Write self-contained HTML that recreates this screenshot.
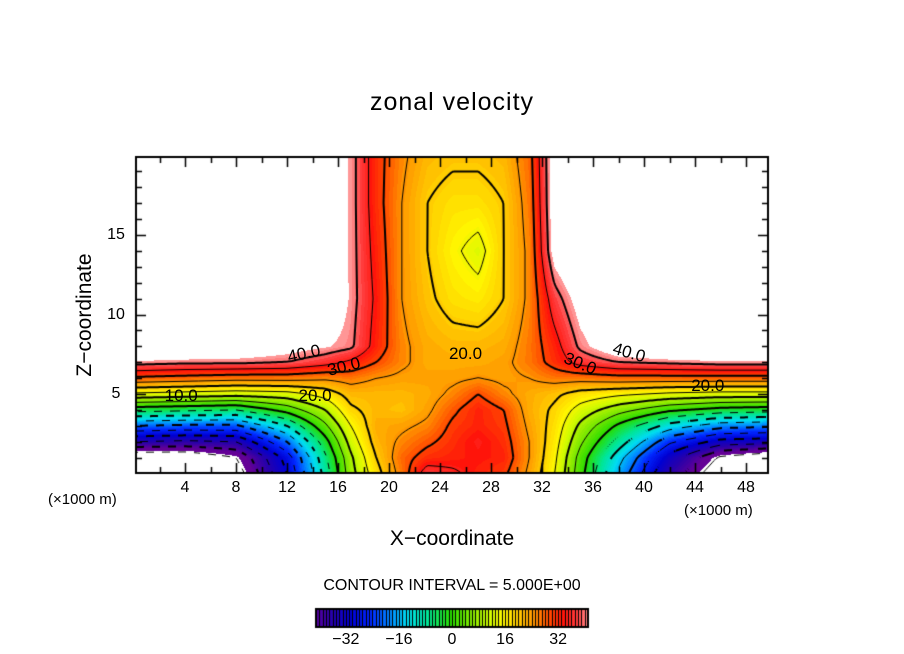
<!DOCTYPE html>
<html><head><meta charset="utf-8">
<style>
body{margin:0;background:#fff;width:904px;height:654px;overflow:hidden;position:relative;font-family:"Liberation Sans","DejaVu Sans",sans-serif;}
.t{position:absolute;color:#000;white-space:nowrap;}
canvas{position:absolute;left:0;top:0;}
</style></head><body>
<canvas id="cv" width="904" height="654"></canvas>
<div class="t" style="left:0;width:904px;text-align:center;top:88px;font-size:25px;letter-spacing:1px;">zonal velocity</div>
<div class="t" style="left:85px;top:315px;font-size:21px;transform:translate(-50%,-50%) rotate(-90deg);">Z−coordinate</div>
<div class="t" style="left:0;width:904px;text-align:center;top:527px;font-size:21px;">X−coordinate</div>
<div class="t" style="left:48px;top:491px;font-size:15px;">(×1000 m)</div>
<div class="t" style="left:684px;top:502px;font-size:15px;">(×1000 m)</div>
<div class="t" style="left:0;width:904px;text-align:center;top:577px;font-size:16px;">CONTOUR INTERVAL = 5.000E+00</div>
<div id="labels"></div>
<script>
// ---- data ----
const xNodes=[0,4,8,12,15,17,19,21,23,25,27,29,31,33,35,38,42,46,50];
const zNodes=[0,1,2,3,4,5,6,7,8,11,14,17,20];
const uZ0 =[-50,-50,-48,-30,-8, 8,18,27,38,36,33,31,24,15, 2,-16,-36,-50,-50];
const uZ1 =[-50,-50,-45,-28,-6, 9,20,28,32,33,34,33,25,16, 3,-13,-32,-46,-50];
const uZ2 =[-35,-36,-35,-20,-2,12,22,26,29,32,35,32,25,17, 6,-7,-24,-32,-33];
const uZ3 =[-20,-21,-21,-10, 4,15,23,24,26,31,33,31,24,18, 9,-1,-12,-18,-19];
const uZ4 =[-3,-4,-5, 2,10,19,22,21,24,29,33,30,23,19,13, 7, 1,-2,-3];
const uZ5 =[14,13,12,13,17,22,22,22,23,26,30,26,23,21,18,16,14,13,13];
const uZ6 =[29,28,27,27,26,27,25,24,24,24,25,24,25,27,27,28,28,28,28];
const uZ7 =[42,41,41,40,37,34,30,26,23,23,23,24,27,32,37,40,41,42,42];
const uZ8 =[50,50,48,45,43,41,33,26,23,22,22,23,27,33,41,47,50,50,50];
const uZ11=[50,50,50,50,48,42,34,25,21,18,17,20,26,38,45,50,50,50,50];
const uZ14=[50,50,50,50,47,42,33,25,20,16,13,20,26,45,50,50,50,50,50];
const uZ17=[50,50,50,50,47,42,32,25,20,18,18,20,27,46,50,50,50,50,50];
const uZ20=[50,50,50,50,47,42,32,26,22,21,21,22,28,46,50,50,50,50,50];
const grid=[uZ0,uZ1,uZ2,uZ3,uZ4,uZ5,uZ6,uZ7,uZ8,uZ11,uZ14,uZ17,uZ20];
const xTicks=[4,8,12,16,20,24,28,32,36,40,44,48];
const zTicks=[5,10,15];
const barTicks=[-32,-16,0,16,32];
const levels=[-45,-40,-35,-30,-25,-20,-15,-10,-5,0,5,10,15,20,25,30,35,40];
const contourLabels=[{v:"40.0",x:13.3,z:7.5,r:-12},{v:"30.0",x:16.5,z:6.7,r:-14},{v:"20.0",x:14.2,z:4.9,r:0},{v:"10.0",x:3.7,z:4.9,r:0},{v:"20.0",x:26.0,z:7.5,r:0},{v:"30.0",x:35.0,z:6.9,r:22},{v:"40.0",x:38.8,z:7.6,r:16},{v:"20.0",x:45.0,z:5.5,r:0}];

// ---- axes ----
const PL=136,PR=768,PT=157,PB=473;
const X0=134,XS=12.75,Z0=473.5,ZS=15.9;
const sx=x=>X0+x*XS, sz=z=>Z0-z*ZS;
const ix=px=>(px-X0)/XS, iz=py=>(Z0-py)/ZS;

function seg(arr,v){let i=0;while(i<arr.length-2&&v>arr[i+1])i++;return i;}
function field(x,z){
  x=Math.max(0,Math.min(50,x));z=Math.max(0,Math.min(20,z));
  const i=seg(xNodes,x),j=seg(zNodes,z);
  const tx=(x-xNodes[i])/(xNodes[i+1]-xNodes[i]),tz=(z-zNodes[j])/(zNodes[j+1]-zNodes[j]);
  const a=grid[j][i],b=grid[j][i+1],c=grid[j+1][i],d=grid[j+1][i+1];
  return (a*(1-tx)+b*tx)*(1-tz)+(c*(1-tx)+d*tx)*tz;
}
const stops=[[-42,[100,0,150]],[-36,[40,0,170]],[-30,[0,0,210]],[-24,[0,40,255]],[-18,[0,140,255]],[-13,[0,220,240]],[-7,[0,230,150]],[0,[40,220,0]],[7,[140,235,0]],[12,[210,250,0]],[16,[255,245,0]],[20,[255,205,0]],[25,[255,150,0]],[30,[255,70,0]],[34,[255,20,10]],[38,[255,60,60]],[42,[255,150,150]]];
function color(v){
  if(v>42.5||v<-44)return [255,255,255];
  v=Math.round(v);
  if(v<=stops[0][0])return stops[0][1];
  for(let k=0;k<stops.length-1;k++){const[a,ca]=stops[k],[b,cb]=stops[k+1];
    if(v<=b){const t=(v-a)/(b-a);return ca.map((c,q)=>Math.round(c+(cb[q]-c)*t));}}
  return stops[stops.length-1][1];
}
const cv=document.getElementById('cv'),ctx=cv.getContext('2d');
ctx.fillStyle='#fff';ctx.fillRect(0,0,904,654);
const img=ctx.createImageData(PR-PL,PB-PT);
for(let py=PT;py<PB;py++)for(let px=PL;px<PR;px++){
  const c=color(field(ix(px+0.5),iz(py+0.5)));const o=((py-PT)*(PR-PL)+(px-PL))*4;
  img.data[o]=c[0];img.data[o+1]=c[1];img.data[o+2]=c[2];img.data[o+3]=255;}
ctx.putImageData(img,PL,PT);

const step=2,nx=Math.ceil((PR-PL)/step),ny=Math.ceil((PB-PT)/step);
const F=[];for(let j=0;j<=ny;j++){F[j]=[];for(let i=0;i<=nx;i++)F[j][i]=field(ix(PL+i*step),iz(PT+j*step));}
ctx.save();ctx.beginPath();ctx.rect(PL,PT,PR-PL,PB-PT);ctx.clip();
ctx.strokeStyle='#000';
levels.forEach(L=>{
  ctx.lineWidth=(L%10===0)?2:1;
  ctx.beginPath();
  for(let j=0;j<ny;j++)for(let i=0;i<nx;i++){
    const v=[F[j][i],F[j][i+1],F[j+1][i+1],F[j+1][i]];
    const p=[[0,0],[1,0],[1,1],[0,1]];const pts=[];
    for(let e=0;e<4;e++){const a=v[e],b=v[(e+1)%4];
      if((a<L)!==(b<L)){const t=(L-a)/(b-a);const pa=p[e],pb=p[(e+1)%4];
        pts.push([PL+(i+pa[0]+(pb[0]-pa[0])*t)*step,PT+(j+pa[1]+(pb[1]-pa[1])*t)*step]);}}
    if(L<0&&((Math.floor((i+j)/4))%2===1))continue;
    for(let k=0;k+1<pts.length;k+=2){ctx.moveTo(pts[k][0],pts[k][1]);ctx.lineTo(pts[k+1][0],pts[k+1][1]);}
  }
  ctx.stroke();
});
ctx.restore();

ctx.strokeStyle='#000';ctx.lineWidth=2;ctx.strokeRect(PL,PT,PR-PL,PB-PT);
ctx.lineWidth=1.5;ctx.beginPath();
for(let x=2;x<=49;x+=2){const L=(x%4===0)?10:6;const X=Math.round(sx(x))+0.5;
  ctx.moveTo(X,PB);ctx.lineTo(X,PB-L);ctx.moveTo(X,PT);ctx.lineTo(X,PT+L);}
for(let z=1;z<=19;z++){const L=(z%5===0)?10:6;const Y=Math.round(sz(z))+0.5;
  ctx.moveTo(PL,Y);ctx.lineTo(PL+L,Y);ctx.moveTo(PR,Y);ctx.lineTo(PR-L,Y);}
ctx.stroke();

const lab=document.getElementById('labels');
function addText(txt,x,y,size,name,rot){const d=document.createElement('div');d.className='t';d.textContent=txt;
  
  
  d.style.left=x+'px';d.style.top=y+'px';d.style.fontSize=size+'px';
  d.style.transform='translate(-50%,-50%)'+(rot?' rotate('+rot+'deg)':'');lab.appendChild(d);}
xTicks.forEach(t=>addText(String(t),sx(t),488,16,'x-tick-label'));
zTicks.forEach(t=>addText(String(t),116,sz(t),16,'y-tick-label'));
contourLabels.forEach(c=>addText(c.v,sx(c.x),sz(c.z),17,'contour-label',c.r));

const BL=316,BR=588,BT=609,BB=627,BMIN=-41,BMAX=41;
const bx=v=>BL+(v-BMIN)*(BR-BL)/(BMAX-BMIN);
for(let v=BMIN;v<BMAX;v++){const c=color(v+0.5);ctx.fillStyle='rgb('+c.join(',')+')';ctx.fillRect(bx(v),BT,bx(v+1)-bx(v)+0.5,BB-BT);
  ctx.fillStyle='#000';ctx.fillRect(Math.round(bx(v)),BT,1,BB-BT);}
ctx.lineWidth=2;ctx.strokeRect(BL,BT,BR-BL,BB-BT);
barTicks.forEach(t=>addText(t<0?'−'+(-t):String(t),bx(t),640,16,'colorbar-tick-label'));
</script>
</body></html>
